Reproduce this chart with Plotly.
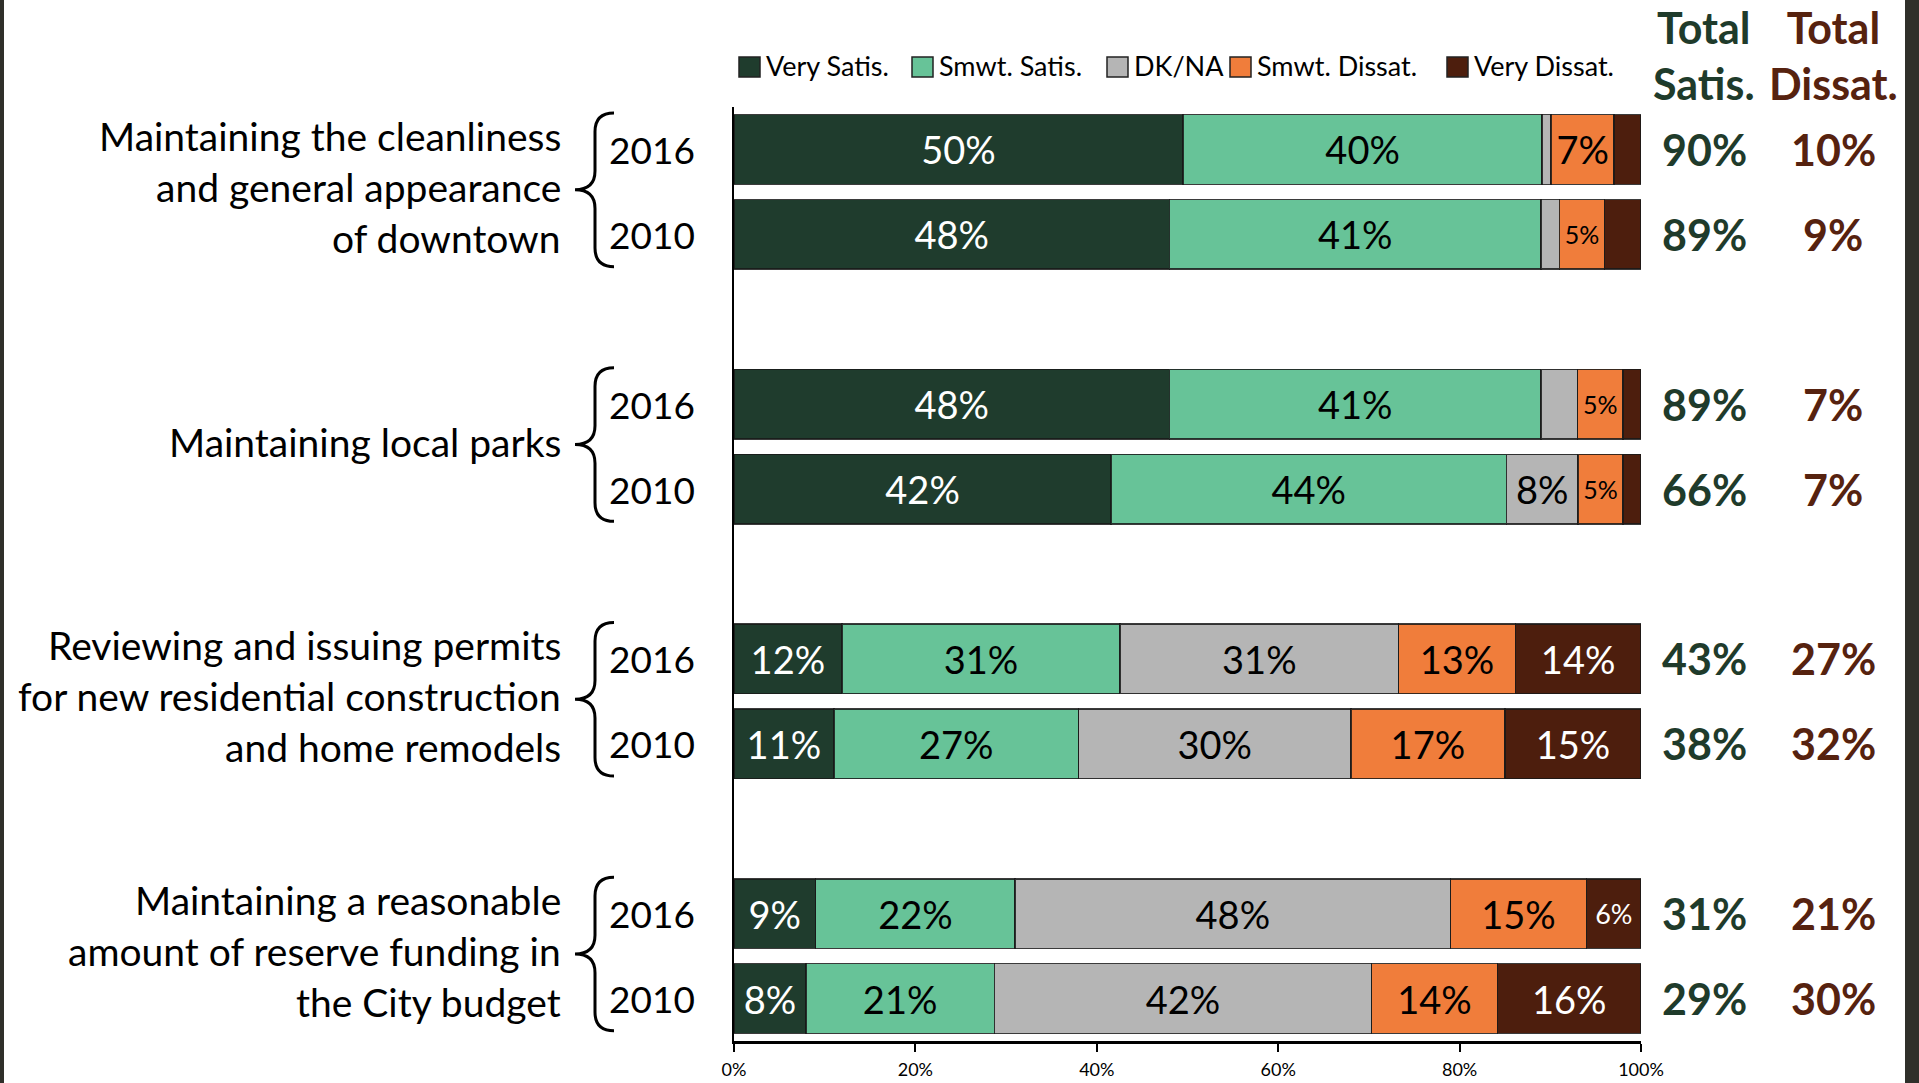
import plotly.graph_objects as go

# ---------------- data ----------------
categories = [
    ["Maintaining the cleanliness", "and general appearance", "of downtown"],
    ["Maintaining local parks"],
    ["Reviewing and issuing permits", "for new residential construction", "and home remodels"],
    ["Maintaining a reasonable", "amount of reserve funding in", "the City budget"],
]
years = ["2016", "2010"]

series_names = ["Very Satis.", "Smwt. Satis.", "DK/NA", "Smwt. Dissat.", "Very Dissat."]
very_satis = [50, 48, 48, 42, 12, 11, 9, 8]
smwt_satis = [40, 41, 41, 44, 31, 27, 22, 21]
dk_na = [1, 2, 4, 8, 31, 30, 48, 42]
smwt_dissat = [7, 5, 5, 5, 13, 17, 15, 14]
very_dissat = [3, 4, 2, 2, 14, 15, 6, 16]

very_satis_lbl = ["50%", "48%", "48%", "42%", "12%", "11%", "9%", "8%"]
smwt_satis_lbl = ["40%", "41%", "41%", "44%", "31%", "27%", "22%", "21%"]
dk_na_lbl = ["", "", "", "8%", "31%", "30%", "48%", "42%"]
smwt_dissat_lbl = ["7%", "5%", "5%", "5%", "13%", "17%", "15%", "14%"]
very_dissat_lbl = ["", "", "", "", "14%", "15%", "6%", "16%"]

total_satis = ["90%", "89%", "89%", "66%", "43%", "38%", "31%", "29%"]
total_dissat = ["10%", "9%", "7%", "7%", "27%", "32%", "21%", "30%"]

x_ticks = [0, 20, 40, 60, 80, 100]
x_tick_labels = ["0%", "20%", "40%", "60%", "80%", "100%"]

# ---------------- styling ----------------
W, H = 1919, 1083
ML, MR, MT, MB = 734, 278, 107, 42
PW = W - ML - MR
PH = H - MT - MB

def px_x(px):
    return (px - ML) / PW

def px_y(py):
    return 1 - (py - MT) / PH

FONT = "Lato, 'Open Sans', sans-serif"
colors = ["#1f3c2d", "#67c398", "#b5b5b5", "#f07d3b", "#4d1e0d"]
text_colors = ["white", "black", "black", "black", "white"]
total_satis_color = "#1f3b2b"
total_dissat_color = "#56220f"

# y positions: two rows per group, one empty slot between groups
ypos = []
for g in range(len(categories)):
    for k in range(len(years)):
        ypos.append(g * 3 + k)

values = [very_satis, smwt_satis, dk_na, smwt_dissat, very_dissat]
labels = [very_satis_lbl, smwt_satis_lbl, dk_na_lbl, smwt_dissat_lbl, very_dissat_lbl]

def label_sizes(vals):
    out = []
    for v in vals:
        if v <= 5:
            out.append(25)
        elif v <= 6:
            out.append(27)
        else:
            out.append(38)
    return out

fig = go.Figure()
for name, vals, lbls, col, tcol in zip(series_names, values, labels, colors, text_colors):
    fig.add_trace(go.Bar(
        y=ypos, x=vals, orientation="h", name=name,
        marker=dict(color=col, line=dict(color="rgba(25,25,25,0.85)", width=1.5)),
        width=0.82,
        text=lbls, textposition="inside", insidetextanchor="middle", textangle=0,
        textfont=dict(family=FONT, color=tcol, size=label_sizes(vals)),
        showlegend=False,
    ))

annotations = []
shapes = []

# category labels, years and braces
for g, lines in enumerate(categories):
    p0 = g * 3
    p1 = g * 3 + 1
    center = (p0 + p1) / 2 - 0.06
    n = len(lines)
    for i, line in enumerate(lines):
        annotations.append(dict(
            x=px_x(563), xref="paper", xanchor="right",
            y=center + (i - (n - 1) / 2) * 0.6, yref="y", yanchor="middle",
            text=line, showarrow=False,
            font=dict(family=FONT, size=39, color="black"),
        ))
    for k, yr in enumerate(years):
        annotations.append(dict(
            x=px_x(607), xref="paper", xanchor="left",
            y=p0 + k, yref="y", yanchor="middle",
            text=yr, showarrow=False,
            font=dict(family=FONT, size=37, color="black"),
        ))
    yt, yb = p0 - 0.43, p1 + 0.38
    ym = (yt + yb) / 2
    r = 0.22
    xe, xs, xt = px_x(614), px_x(595), px_x(575)
    path = (f"M {xe},{yt} Q {xs},{yt} {xs},{yt + r} L {xs},{ym - r} "
            f"Q {xs},{ym} {xt},{ym} Q {xs},{ym} {xs},{ym + r} "
            f"L {xs},{yb - r} Q {xs},{yb} {xe},{yb}")
    shapes.append(dict(type="path", path=path, xref="paper", yref="y",
                       line=dict(color="black", width=3)))

# totals
sat_x, dis_x = px_x(1704), px_x(1833)
for y, ts, td in zip(ypos, total_satis, total_dissat):
    annotations.append(dict(x=sat_x, xref="paper", xanchor="center", y=y, yref="y",
                            yanchor="middle", text=ts, showarrow=False,
                            font=dict(family=FONT, size=43, color=total_satis_color, weight="bold")))
    annotations.append(dict(x=dis_x, xref="paper", xanchor="center", y=y, yref="y",
                            yanchor="middle", text=td, showarrow=False,
                            font=dict(family=FONT, size=43, color=total_dissat_color, weight="bold")))
annotations.append(dict(x=sat_x, xref="paper", xanchor="center", y=px_y(55), yref="paper",
                        text="Total<br>Satis.", showarrow=False, yanchor="middle",
                        font=dict(family=FONT, size=43, color=total_satis_color, weight="bold")))
annotations.append(dict(x=dis_x, xref="paper", xanchor="center", y=px_y(55), yref="paper",
                        text="Total<br>Dissat.", showarrow=False, yanchor="middle",
                        font=dict(family=FONT, size=43, color=total_dissat_color, weight="bold")))

# custom legend
legend_marker_x = [739, 912, 1107, 1230, 1447]
for name, col, mx in zip(series_names, colors, legend_marker_x):
    shapes.append(dict(type="rect", xref="paper", yref="paper",
                       x0=px_x(mx), x1=px_x(mx + 21), y0=px_y(77), y1=px_y(57),
                       fillcolor=col, line=dict(color="#222222", width=1.5)))
    annotations.append(dict(x=px_x(mx + 25), xref="paper", xanchor="left",
                            y=px_y(66), yref="paper", yanchor="middle",
                            text=name, showarrow=False,
                            font=dict(family=FONT, size=27, color="black")))

# slide frame edges
shapes.append(dict(type="rect", xref="paper", yref="paper", x0=px_x(0), x1=px_x(4),
                   y0=px_y(H), y1=px_y(0), fillcolor="#2f2f2a", line=dict(width=0), layer="below"))
shapes.append(dict(type="rect", xref="paper", yref="paper", x0=px_x(1905), x1=px_x(W),
                   y0=px_y(H), y1=px_y(0), fillcolor="#2f2f2a", line=dict(width=0), layer="below"))

fig.update_layout(
    width=W, height=H,
    margin=dict(l=ML, r=MR, t=MT, b=MB, pad=0, autoexpand=False),
    barmode="stack", barnorm="percent",
    paper_bgcolor="white", plot_bgcolor="white",
    font=dict(family=FONT, color="black"),
    annotations=annotations, shapes=shapes,
    xaxis=dict(range=[0, 100], tickvals=x_ticks, ticktext=x_tick_labels,
               ticks="outside", ticklen=8, tickwidth=1.5, tickcolor="black",
               showline=True, linecolor="black", linewidth=2.5,
               showgrid=False, zeroline=False, fixedrange=True, automargin=False,
               tickfont=dict(family=FONT, size=18, color="black"), ticklabelstandoff=3),
    yaxis=dict(range=[10.5, -0.5], showticklabels=False, ticks="",
               showline=True, linecolor="black", linewidth=1.5, automargin=False,
               showgrid=False, zeroline=False, fixedrange=True),
)

fig.write_html(
    "out.html",
    config={"displayModeBar": False},
    post_script="document.body.style.margin='0';document.body.style.overflow='hidden';",
)
